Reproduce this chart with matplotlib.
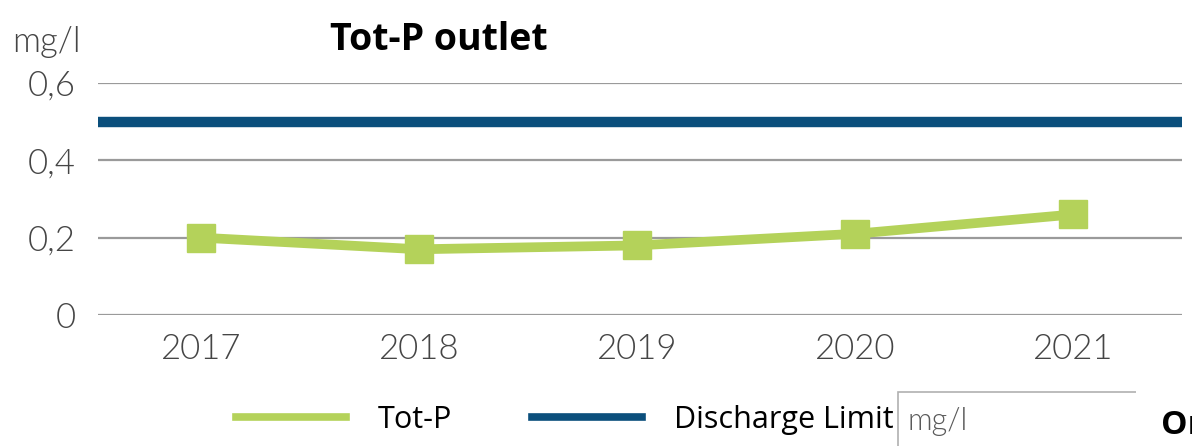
import matplotlib
matplotlib.use("Agg")
import matplotlib.pyplot as plt
from matplotlib.lines import Line2D
from matplotlib.patches import Polygon

# ── data ───────────────────────────────────────────────────────────
years = [2017, 2018, 2019, 2020, 2021]
tot_p = [0.20, 0.17, 0.18, 0.21, 0.26]
discharge_limit = 0.5
y_ticks = [0, 0.2, 0.4, 0.6]
y_tick_labels = ["0", "0,2", "0,4", "0,6"]

GREEN = "#B4D25A"
BLUE = "#0B4F7C"
GRID = "#9A9A9A"
TICK_TXT = "#454545"
LIGHT = 300   # Lato Light, not Hairline

plt.rcParams["font.family"] = ["Lato", "DejaVu Sans"]
BOLD = ["Open Sans", "DejaVu Sans"]

fig = plt.figure(figsize=(11.92, 4.46), dpi=100)
ax = fig.add_axes([0.0822, 0.2937, 0.9094, 0.5202])

ax.axhline(discharge_limit, color=BLUE, linewidth=7.5, solid_capstyle="butt", zorder=3)
ax.plot(years, tot_p, color=GREEN, linewidth=7, marker="s", markersize=20,
        solid_joinstyle="miter", zorder=4)

ax.set_xlim(2016.527, 2021.5)
ax.set_ylim(0, 0.6)
ax.set_yticks(y_ticks)
ax.set_yticklabels(y_tick_labels)
ax.set_xticks(years)
ax.set_xticklabels([str(y) for y in years])
ax.tick_params(length=0, labelsize=25, labelcolor=TICK_TXT, pad=16)
ax.tick_params(axis="x", pad=13)
for lbl in ax.get_xticklabels() + ax.get_yticklabels():
    lbl.set_fontweight(LIGHT)
ax.grid(axis="y", color=GRID, linewidth=1.6)
ax.set_axisbelow(True)
for s in ax.spines.values():
    s.set_visible(False)

fig.text(0.010, 0.905, "mg/l", fontsize=25, color=TICK_TXT, fontweight=LIGHT,
         va="center")
fig.text(0.277, 0.91, "Tot-P outlet", fontsize=27, fontweight="bold", va="center",
         family=BOLD)

# legend below the axes
handles = [Line2D([], [], color=GREEN, linewidth=5.5),
           Line2D([], [], color=BLUE, linewidth=5.5)]
fig.legend(handles, ["Tot-P", "Discharge Limit"], ncol=2, frameon=False,
           loc="center left", bbox_to_anchor=(0.198, 0.058),
           borderpad=0, borderaxespad=0,
           handlelength=3.6, handletextpad=1.05, columnspacing=2.6,
           prop={"family": BOLD, "size": 22})

# neighbouring panel peeking in at the bottom right
fig.add_artist(Polygon([[0.7535, 0.0], [0.7535, 0.121], [0.953, 0.121]],
                       closed=False, fill=False, edgecolor="#B0B0B0", linewidth=1.2))
fig.text(0.761, 0.055, "mg/l", fontsize=22, color="#5A5A5A", fontweight=LIGHT,
         va="center")
fig.text(0.974, 0.045, "Or", fontsize=24, fontweight="bold", va="center",
         family=BOLD)

fig.savefig("out.png", dpi=100)
